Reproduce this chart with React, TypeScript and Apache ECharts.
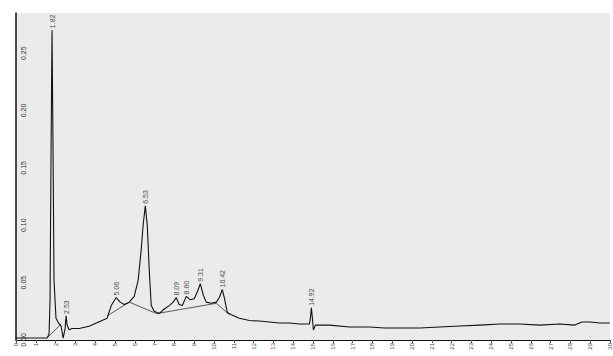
import React, { useEffect, useRef } from "react";
import * as echarts from "echarts";

// retention time (min) / absorbance pairs of the trace
const traceTime = [0, 0.66, 1.57, 1.67, 1.72, 1.77, 1.82, 1.87, 1.92, 2.02, 2.18, 2.28, 2.38, 2.48, 2.53, 2.58, 2.68, 2.83, 3.19, 3.69, 4.2, 4.6, 4.81, 5.06, 5.26, 5.46, 5.72, 5.97, 6.17, 6.32, 6.42, 6.53, 6.63, 6.73, 6.83, 6.98, 7.23, 7.49, 7.74, 7.94, 8.09, 8.24, 8.4, 8.6, 8.8, 9.0, 9.16, 9.31, 9.46, 9.61, 9.86, 10.12, 10.27, 10.42, 10.52, 10.67, 10.88, 11.28, 11.79, 12.29, 12.8, 13.3, 13.81, 14.31, 14.82, 14.87, 14.92, 14.97, 15.02, 15.12, 15.83, 16.84, 17.86, 18.61, 19.37, 20.38, 21.4, 22.41, 23.42, 24.43, 25.44, 26.45, 27.47, 28.22, 28.58, 28.98, 29.49, 30.0];
const traceValue = [0.0017, 0.0017, 0.0017, 0.005, 0.035, 0.165, 0.27, 0.165, 0.052, 0.019, 0.014, 0.012, 0.0017, 0.01, 0.021, 0.013, 0.009, 0.01, 0.01, 0.012, 0.016, 0.019, 0.03, 0.037, 0.033, 0.031, 0.033, 0.038, 0.052, 0.078, 0.1, 0.117, 0.1, 0.061, 0.03, 0.025, 0.023, 0.027, 0.03, 0.033, 0.037, 0.031, 0.03, 0.038, 0.035, 0.036, 0.042, 0.049, 0.039, 0.033, 0.032, 0.033, 0.037, 0.044, 0.037, 0.024, 0.022, 0.019, 0.017, 0.0165, 0.0157, 0.0148, 0.0148, 0.0139, 0.0139, 0.019, 0.028, 0.019, 0.0087, 0.013, 0.013, 0.0113, 0.0113, 0.0104, 0.0104, 0.0104, 0.0113, 0.0122, 0.013, 0.0139, 0.0139, 0.013, 0.0139, 0.013, 0.0157, 0.0157, 0.0148, 0.0148];

// integration baselines (segments: start/end time and value)
const baseStartTime = [1.57, 4.6, 5.72, 7.1, 10.12];
const baseStartValue = [0.0017, 0.021, 0.033, 0.023, 0.032];
const baseEndTime = [2.28, 5.72, 7.1, 10.12, 10.78];
const baseEndValue = [0.014, 0.033, 0.023, 0.032, 0.022];

// peak apex labels
const peakTime = [1.82, 2.53, 5.06, 6.53, 8.09, 8.6, 9.31, 10.42, 14.92];
const peakValue = [0.27, 0.021, 0.037, 0.117, 0.037, 0.038, 0.049, 0.044, 0.028];
const peakLabel = ["1.82", "2.53", "5.06", "6.53", "8.09", "8.60", "9.31", "10.42", "14.92"];

// x tick labels
const xTicks = Array.from({ length: 31 }, (_, i) => String(i));

export default function App() {
  const ref = useRef<HTMLDivElement>(null);
  useEffect(() => {
    if (!ref.current) return;
    const chart = echarts.init(ref.current, undefined, { renderer: "svg" });
    const trace = traceTime.map((t, i) => [t, traceValue[i]]);
    const baseSeries = baseStartTime.map((t, i) => ({
      type: "line",
      data: [
        [t, baseStartValue[i]],
        [baseEndTime[i], baseEndValue[i]],
      ],
      symbol: "none",
      lineStyle: { color: "#333", width: 0.8 },
      silent: true,
      z: 2,
    }));
    chart.setOption({
      animation: false,
      backgroundColor: "#ffffff",
      grid: {
        left: 16,
        right: 3,
        top: 13,
        bottom: 16,
        show: true,
        backgroundColor: "#ebebeb",
        borderWidth: 0,
      },
      xAxis: {
        type: "value",
        min: 0,
        max: 30,
        interval: 1,
        axisLine: { lineStyle: { color: "#111", width: 1.2 } },
        axisTick: { length: 3, lineStyle: { color: "#555" } },
        axisLabel: {
          rotate: 90,
          fontSize: 6,
          color: "#444",
          margin: 3,
          formatter: (v: number) => xTicks[Math.round(v)] ?? "",
        },
        splitLine: { show: false },
      },
      yAxis: {
        type: "value",
        min: 0,
        max: 0.285,
        interval: 0.05,
        axisLine: { show: true, lineStyle: { color: "#111", width: 1.5 } },
        axisTick: { show: false },
        axisLabel: {
          inside: true,
          rotate: 90,
          fontSize: 7,
          color: "#333",
          margin: 4,
          showMaxLabel: false,
          formatter: (v: number) => v.toFixed(2),
        },
        splitLine: { show: false },
      },
      series: [
        {
          type: "line",
          data: trace,
          symbol: "none",
          lineStyle: { color: "#111", width: 1.1 },
          z: 3,
        },
        ...baseSeries,
        {
          type: "scatter",
          data: peakTime.map((t, i) => [t, peakValue[i]]),
          symbolSize: 0,
          label: {
            show: true,
            position: "top",
            rotate: 90,
            align: "left",
            verticalAlign: "middle",
            distance: 2,
            fontSize: 7,
            color: "#111",
            formatter: (p: any) => peakLabel[p.dataIndex],
          },
          z: 4,
        },
      ],
    });
    return () => chart.dispose();
  }, []);
  return (
    <div
      ref={ref}
      style={{ position: "fixed", left: 0, top: 0, width: 613, height: 356 }}
    />
  );
}
